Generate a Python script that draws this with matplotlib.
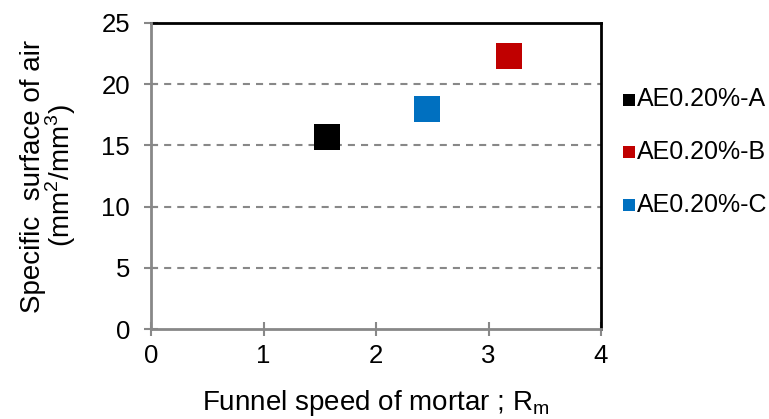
import matplotlib.pyplot as plt

plt.rcParams['font.family'] = ['Liberation Sans', 'DejaVu Sans']

# funnel speed and specific surface for each mix
labels = ['AE0.20%-A', 'AE0.20%-B', 'AE0.20%-C']
funnel_speed = [1.56, 3.18, 2.45]
specific_surface = [15.7, 22.3, 18.0]
colors = ['#000000', '#c00000', '#0070c0']

W, H = 769, 419
fig = plt.figure(figsize=(W / 100, H / 100), dpi=100)
ax = fig.add_axes([151 / W, 1 - 329 / H, 450 / W, 306 / H])

for lab, x, y, c in zip(labels, funnel_speed, specific_surface, colors):
    ax.scatter(x, y, s=350, marker='s', color=c, label=lab, zorder=3,
               linewidths=0)

ax.set_xlim(0, 4)
ax.set_ylim(0, 25)
ax.set_xticks([0, 1, 2, 3, 4])
ax.set_yticks([0, 5, 10, 15, 20, 25])

for v in [5, 10, 15, 20]:
    ax.axhline(v, color='#888888', lw=1.5, ls=(0, (3.4, 2.9)), zorder=1)

for side in ['left', 'bottom']:
    ax.spines[side].set_color('#888888')
    ax.spines[side].set_linewidth(2)
    ax.spines[side].set_zorder(4)
for side in ['top', 'right']:
    ax.spines[side].set_color('black')
    ax.spines[side].set_linewidth(2)

ax.tick_params(axis='both', direction='inout', color='#888888', width=1.5,
               length=10, labelsize=18.5, labelcolor='black')
ax.tick_params(axis='y', pad=10)
ax.tick_params(axis='x', pad=6)

ax.set_xlabel('Funnel speed of mortar ; R$_\\mathregular{m}$', fontsize=20,
              labelpad=14)
ax.set_ylabel('Specific  surface of air\n(mm$^\\mathregular{2}$/mm$^\\mathregular{3}$)',
              fontsize=20, labelpad=17, linespacing=0.9)

fig.legend(*ax.get_legend_handles_labels(), loc='center left',
           bbox_to_anchor=(622 / W, 1 - 152 / H), frameon=False,
           fontsize=18, handletextpad=0.05, handlelength=0.55,
           labelspacing=1.15, markerscale=0.5, borderaxespad=0,
           borderpad=0)

fig.savefig('out.png', dpi=100)
